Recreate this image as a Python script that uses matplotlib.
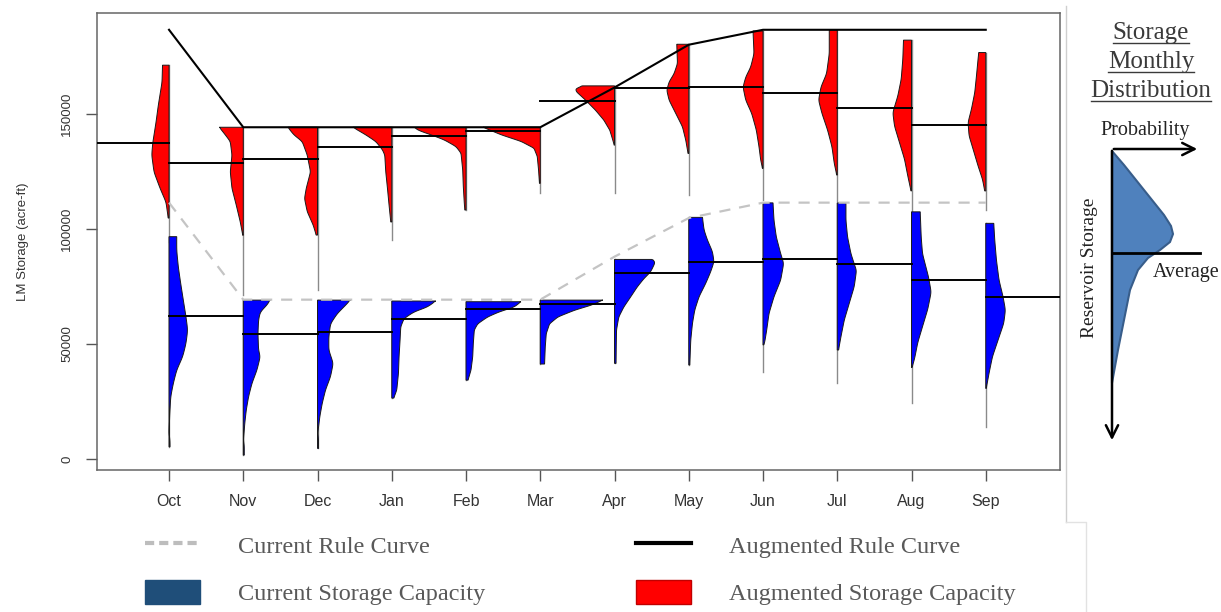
import numpy as np
import matplotlib.pyplot as plt
from matplotlib.lines import Line2D
from matplotlib.patches import Patch

plt.rcParams['font.family'] = 'Liberation Sans'

MONTHS = ["Oct", "Nov", "Dec", "Jan", "Feb", "Mar",
          "Apr", "May", "Jun", "Jul", "Aug", "Sep"]

# rule curves (acre-ft)
AUG_RULE = [186700, 144300, 144300, 144300, 144300, 144300,
            161600, 180200, 186700, 186700, 186700, 186700]
CUR_RULE = [111500, 69300, 69300, 69300, 69300, 69300,
            88000, 104800, 111500, 111500, 111500, 111500]

# monthly averages
AUG_MEAN = [137300, 128600, 130300, 135800, 140400, 142600,
            155700, 161300, 161700, 159300, 152700, 145200]
CUR_MEAN = [62300, 54200, 55400, 61100, 65100, 67400,
            80700, 85700, 87100, 84800, 77800, 70300]

# minimum storage reached
AUG_MIN = [94500, 71500, 73500, 95200, 108300, 115500,
           115500, 114800, 112600, 112200, 107500, 108300]
CUR_MIN = [5300, 1700, 4600, 26500, 34300, 41300,
           41600, 40900, 38000, 32900, 24500, 14000]

# density profiles, storage level (top to bottom) and relative density
AUG_LEVELS = [
    [171300, 163900, 153900, 146500, 137400, 132200, 124800, 117800, 111700, 104800],
    [144300, 141000, 138100, 132200, 124900, 117700, 110400, 103100, 97300],
    [144300, 141000, 138100, 132200, 124900, 117700, 113300, 107600, 101700, 97400],
    [144300, 141000, 138100, 134500, 132200, 124900, 117700, 110400, 103100],
    [144200, 143000, 141000, 138800, 135900, 133000, 125700, 118500, 111200, 108300],
    [144300, 141000, 138100, 135200, 131600, 125700, 119900],
    [162300, 161000, 159700, 156100, 151700, 147400, 143000, 138700, 136500],
    [180400, 172000, 167600, 164000, 160400, 156100, 150300, 144500, 138700, 132900],
    [186200, 176300, 170500, 166100, 161800, 156100, 150300, 143100, 135800, 130000, 126400],
    [186500, 176300, 167600, 161800, 156100, 150300, 143100, 135800, 128600, 123500],
    [182200, 173900, 165200, 157900, 150700, 144800, 137600, 130400, 123100, 116600],
    [176800, 173900, 166600, 159400, 152200, 146400, 140600, 134800, 127500, 121700, 116600],
]
AUG_DENS = [
    [6.5, 7, 10.7, 13, 16.3, 17.3, 15, 9, 3, 0.8],
    [24, 18, 13, 11.3, 13, 11.3, 7, 3, 0.5],
    [29.7, 23.7, 15.3, 10.3, 7, 11.3, 13, 10.3, 4.3, 1.3],
    [39, 26, 16, 9.3, 7, 6, 4.3, 2.7, 1],
    [51.7, 48, 35, 21.7, 10, 5, 3.3, 2.7, 1.7, 1.2],
    [57.3, 39, 19, 6.3, 3, 1.7, 0.8],
    [32, 39, 38, 29, 19, 10.7, 4.7, 1.7, 0.3],
    [12, 11.3, 14.7, 19.7, 22, 19.7, 13, 6.3, 3, 0.7],
    [10, 9, 12.3, 17.3, 20, 17.3, 11.3, 6.7, 4, 2.3, 0.5],
    [8, 8, 10.7, 16.3, 18.7, 15.3, 9.7, 5.3, 3, 0.5],
    [8, 8.7, 10.3, 13.7, 18.7, 17, 12, 7, 3.7, 0.5],
    [7, 7.7, 9.3, 11, 14.3, 17.7, 16.7, 12.7, 7.7, 3.3, 1],
]
CUR_LEVELS = [
    [96700, 90700, 83500, 76300, 69100, 61800, 56100, 50300, 44500, 38700,
     32900, 27100, 18400, 12000, 9500, 9000, 5300],
    [69100, 66900, 64000, 60400, 54600, 47400, 44500, 38700, 32900, 27100,
     21300, 15500, 8000, 6000, 1700],
    [69100, 66100, 63200, 58800, 53000, 47400, 41600, 35800, 30000, 24200,
     18400, 11000, 9000, 4600],
    [68700, 66100, 64000, 61100, 57500, 51700, 44500, 37300, 30000, 26500],
    [68400, 66100, 64000, 61800, 58800, 56100, 50300, 44500, 38700, 34300],
    [69100, 66900, 64700, 61800, 58800, 54500, 48800, 41300],
    [86800, 86000, 84200, 81300, 78400, 74800, 70400, 66100, 61800, 56100, 48800, 41600],
    [105100, 99600, 95200, 90200, 85800, 81500, 76400, 70600, 64800, 59000, 51700, 40900],
    [111400, 103800, 96600, 89300, 85100, 77800, 70600, 63300, 56100, 50300, 49600],
    [111400, 103800, 96600, 89300, 83500, 82200, 75000, 67700, 60400, 53200, 47400],
    [107500, 96600, 89300, 79200, 72600, 65200, 58000, 50700, 43500, 39800],
    [102500, 95200, 86500, 77800, 70600, 64800, 59000, 51700, 44500, 37300, 30700],
]
CUR_DENS = [
    [7.7, 7.7, 9.3, 11.7, 14.3, 17, 18.7, 17, 13.7, 7.7, 4.3, 1.7, 0.6, 0.2, 0.2, 1.0, 1.0],
    [27, 23.7, 17, 15.3, 14.7, 15.3, 17, 13.7, 8.7, 5.3, 3, 1.5, 0.2, 1.0, 1.0],
    [33, 26.3, 19.7, 13, 11.3, 11.3, 15.7, 13, 8, 4.7, 2.3, 0.2, 1.0, 1.0],
    [44, 35.7, 22.3, 12.3, 9, 8.3, 7.3, 6.7, 5, 2],
    [55, 48.3, 33.3, 21.7, 11.7, 8.3, 7.3, 6.7, 5, 2],
    [62.7, 51, 34.3, 17.7, 9.3, 6, 5, 4.3],
    [37, 41, 39.3, 36, 29.3, 22.7, 16, 9.3, 4.3, 2, 1.7, 1.5],
    [13.7, 15.3, 18.7, 23.7, 25.3, 22, 17, 10.3, 6, 3.7, 2, 1],
    [10, 11, 13.3, 17.7, 20.7, 17.7, 11, 6, 3.7, 1.5, 0.5],
    [8.7, 8.7, 10.3, 13.7, 18, 19.3, 17, 12, 7, 3.7, 1.3],
    [8.7, 9.7, 11, 17, 19.7, 16.3, 11.3, 6.3, 3, 0.5],
    [8, 9, 10.7, 13.3, 17.3, 19.7, 18, 12.3, 6.7, 3.3, 0.5],
]

# schematic of one monthly distribution (illustration panel)
SKETCH_LEVELS = [151, 165, 180, 200, 215, 226, 234, 242, 250, 258, 270, 290, 320, 350, 383]
SKETCH_DENS = [0, 12, 24, 40, 52, 59, 61, 58, 48, 36, 26, 18, 12, 6, 0]

DENS_SCALE = 1 / 74.3
W, H = 1221, 612


def smooth_profile(levels, dens, n=240, k=9):
    lv = np.asarray(levels, float)
    dv = np.asarray(dens, float)
    y = np.linspace(lv[0], lv[-1], n)
    w = np.interp(y, lv[::-1], dv[::-1])
    pad = np.pad(w, k, mode='edge')
    ker = np.exp(-0.5 * (np.arange(-k, k + 1) / (k / 2.5)) ** 2)
    ker /= ker.sum()
    ws = np.convolve(pad, ker, mode='same')[k:-k]
    ws[0], ws[-1] = dv[0], dv[-1]
    return y, ws


def half_violin(ax, xc, levels, dens, side, color):
    y, w = smooth_profile(levels, dens)
    xs = np.concatenate([[xc], xc + side * w * DENS_SCALE, [xc]])
    ys = np.concatenate([[y[0]], y, [y[-1]]])
    ax.fill(xs, ys, facecolor=color, edgecolor='#1a1a1a', lw=0.7, zorder=2)


fig = plt.figure(figsize=(W / 100, H / 100), dpi=100)
ax = fig.add_axes([97 / W, 1 - 470 / H, (1060 - 97) / W, (470 - 13) / H])
xpos = np.arange(1, len(MONTHS) + 1)

for i, xc in enumerate(xpos):
    ax.plot([xc, xc], [AUG_MIN[i], AUG_LEVELS[i][0]], color='#8a8a8a', lw=1, zorder=1)
    ax.plot([xc, xc], [CUR_MIN[i], CUR_LEVELS[i][0]], color='#8a8a8a', lw=1, zorder=1)
    half_violin(ax, xc, AUG_LEVELS[i], AUG_DENS[i], -1, '#ff0000')
    half_violin(ax, xc, CUR_LEVELS[i], CUR_DENS[i], 1, '#0000ff')
    ax.plot([xc - 1, xc], [AUG_MEAN[i]] * 2, color='black', lw=1.4, zorder=4)
    ax.plot([xc, xc + 1], [CUR_MEAN[i]] * 2, color='black', lw=1.4, zorder=4)

ax.plot(xpos, CUR_RULE, color='#c4c4c4', lw=1.6, ls=(0, (5, 4)), zorder=3)
ax.plot(xpos, AUG_RULE, color='black', lw=1.5, zorder=5)

ax.set_xlim(0.03, 13.0)
ax.set_ylim(-4800, 194000)
ax.set_xticks(xpos)
ax.set_xticklabels(MONTHS, fontsize=11.5, color='#333333')
ax.set_yticks([0, 50000, 100000, 150000])
ax.set_yticklabels(["0", "50000", "100000", "150000"], rotation=90,
                   va='center', fontsize=9.5, color='#333333')
ax.tick_params(axis='x', length=8, width=1, color='#555555', pad=9)
ax.tick_params(axis='y', length=8, width=1, color='#555555', pad=9)
ax.set_ylabel("LM Storage (acre-ft)", fontsize=9.5, color='#333333', labelpad=23)
for sp in ax.spines.values():
    sp.set_color('#666666')
    sp.set_linewidth(1.1)

# overlay in pixel coordinates for the side panel
ov = fig.add_axes([0, 0, 1, 1])
ov.set_xlim(0, W)
ov.set_ylim(H, 0)
ov.axis('off')
ov.patch.set_alpha(0)

ov.plot([1066, 1066], [6, 522], color='#cfcfcf', lw=1)
ov.plot([1066, 1086, 1086], [522, 522, 612], color='#e2e2e2', lw=1)

serif = 'Liberation Serif'
title_txt = []
for word, yy in [("Storage", 33), ("Monthly", 62), ("Distribution", 91)]:
    t = ov.text(1151, yy, word, family=serif, fontsize=18, color='#3a3a3a',
                ha='center', va='center')
    title_txt.append(t)

ov.text(1145, 131, "Probability", family=serif, fontsize=14.5, color='#222222',
        ha='center', va='center')
ov.text(1186, 272, "Average", family=serif, fontsize=14.5, color='#222222',
        ha='center', va='center')
ov.text(1090, 268, "Reservoir Storage", family=serif, fontsize=14, color='#222222',
        ha='center', va='center', rotation=90)

sk_y = np.asarray(SKETCH_LEVELS, float)
sk_x = 1112 + np.asarray(SKETCH_DENS, float)
ov.fill(np.concatenate([[1112], sk_x, [1112]]),
        np.concatenate([[sk_y[0]], sk_y, [sk_y[-1]]]),
        facecolor='#4f81bd', edgecolor='#385d8a', lw=1.5)
ov.annotate('', xy=(1200, 149), xytext=(1111, 149),
            arrowprops=dict(arrowstyle='->', lw=1.8, color='black', mutation_scale=22))
ov.annotate('', xy=(1112, 443), xytext=(1112, 148),
            arrowprops=dict(arrowstyle='->', lw=1.8, color='black', mutation_scale=22))
ov.plot([1112, 1200], [253, 253], color='black', lw=2)

# underline the panel title
fig.canvas.draw()
inv = ov.transData.inverted()
for t in title_txt:
    bb = t.get_window_extent()
    (x0, y0), (x1, y1) = inv.transform([[bb.x0, bb.y0], [bb.x1, bb.y1]])
    ov.plot([x0, x1], [y0 - 1, y0 - 1], color='#3a3a3a', lw=1)

handles = [Line2D([], [], color='#bdbdbd', lw=3, ls=(0, (2.2, 1.2))),
           Patch(facecolor='#1f4e79', edgecolor='#1f4e79'),
           Line2D([], [], color='black', lw=3),
           Patch(facecolor='#ff0000', edgecolor='#c00000')]
labels = ["Current Rule Curve", "Current Storage Capacity",
          "Augmented Rule Curve", "Augmented Storage Capacity"]
fig.legend(handles, labels, ncol=2, loc='upper left',
           bbox_to_anchor=(145 / W, 1 - 533 / H), frameon=False,
           prop=dict(family=serif, size=17.5), labelcolor='#595959',
           handlelength=2.26, handleheight=1.15, handletextpad=1.56,
           columnspacing=6.2, labelspacing=0.9, borderpad=0, borderaxespad=0)

fig.savefig('out.png', dpi=100)
